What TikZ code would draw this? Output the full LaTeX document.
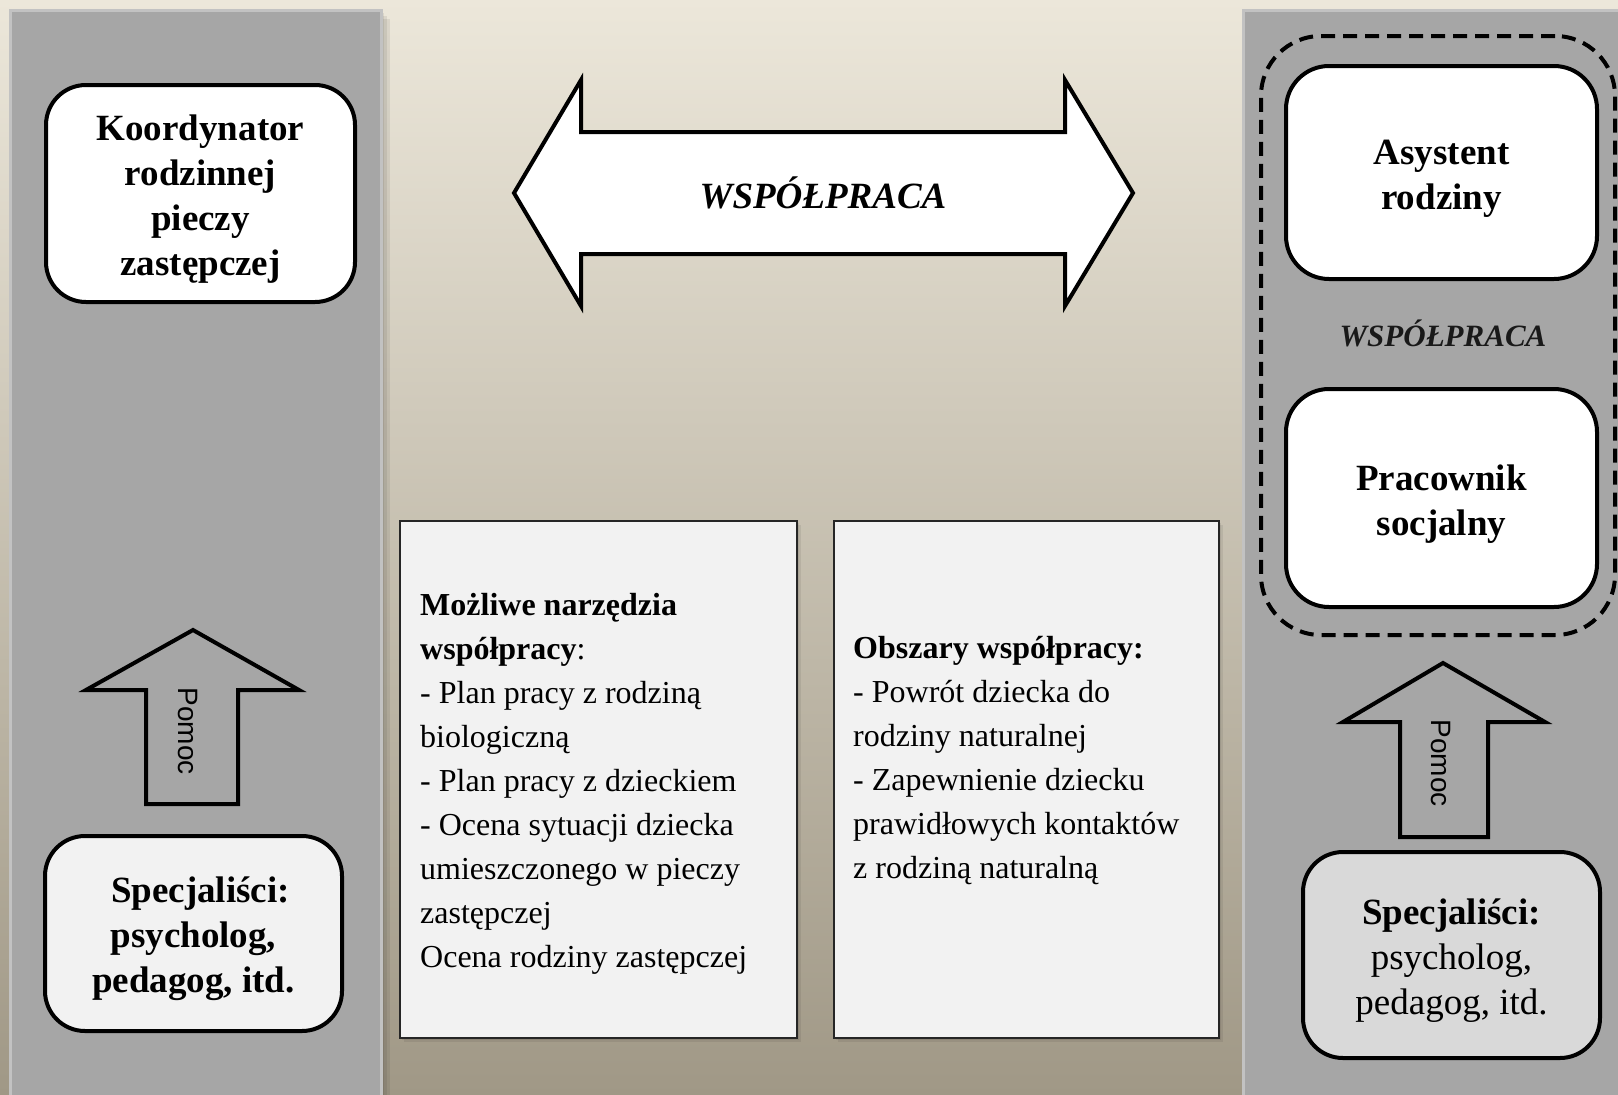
\documentclass[tikz,border=0pt]{standalone}
\usepackage{fontspec}
\setmainfont{Liberation Serif}
\newfontfamily\arialfont{Liberation Sans}
\definecolor{bgtop}{RGB}{236,231,218}
\definecolor{bgbot}{RGB}{160,152,134}
\definecolor{panel}{RGB}{166,166,166}
\definecolor{panelborder}{RGB}{194,194,194}
\definecolor{lightbox}{RGB}{242,242,242}
\definecolor{midbox}{RGB}{217,217,217}
\newcommand{\topstrut}{\rule{0pt}{37pt}}
\begin{document}
\begin{tikzpicture}[x=1pt,y=-1pt,
  panelbox/.style={fill=panel,draw=panelborder,line width=3pt},
  shadowbox/.style={fill=black,opacity=0.07},
  rbox/.style={draw=black,line width=4pt,rounded corners=40pt,fill=white,align=center,inner sep=0pt},
  bigbold/.style={font=\fontsize{37}{45}\selectfont\bfseries},
  bigreg/.style={font=\fontsize{37}{45}\selectfont},
  infobox/.style={draw=black!85,line width=1.5pt,fill=lightbox,inner sep=0pt},
  infotext/.style={anchor=base west,inner sep=0pt},
  blockarrow/.style={draw=black,line width=4pt,line join=miter},
  pomoc/.style={font=\arialfont\fontsize{28}{30}\selectfont,rotate=-90,inner sep=0pt},
  teamline/.style={draw=black,line width=4pt,dash pattern=on 14pt off 8pt,rounded corners=60pt,inner sep=0pt},
  coop/.style={font=\fontsize{37}{40}\selectfont\bfseries\itshape,inner sep=0pt}
]
\useasboundingbox (0,0) rectangle (1618,1095);
\clip (0,0) rectangle (1618,1095);
\shade[top color=bgtop,bottom color=bgbot] (0,0) rectangle (1618,1095);

% panels with soft shadows
\foreach \d in {3,6,9}{
  \fill[shadowbox] (10+\d,10+\d) rectangle (381+\d,1110);
  \fill[shadowbox] (1243+\d,10+\d) rectangle (1630,1110);
}
\draw[panelbox] (10,10) rectangle (381,1110);
\draw[panelbox] (1243,10) rectangle (1630,1110);

% middle boxes with shadows
\foreach \d in {2,4}{
  \fill[shadowbox] (400+\d,521+\d) rectangle (797+\d,1038+\d);
  \fill[shadowbox] (834+\d,521+\d) rectangle (1219+\d,1038+\d);
}
\node[infobox,minimum width=397pt,minimum height=517pt] (tools) at (598.5,779.5) {};
\node[infobox,minimum width=385pt,minimum height=517pt] (areas) at (1026.5,779.5) {};

\node[infotext] (toolstext) at (420,615) {\parbox[t]{375pt}{\raggedright\fontsize{32}{44}\selectfont
\textbf{Możliwe narzędzia}\\
\textbf{współpracy}:\\
- Plan pracy z rodziną\\
biologiczną\\
- Plan pracy z dzieckiem\\
- Ocena sytuacji dziecka\\
umieszczonego w pieczy\\
zastępczej\\
Ocena rodziny zastępczej}};

\node[infotext] (areastext) at (853,658) {\parbox[t]{360pt}{\raggedright\fontsize{32}{44}\selectfont
\textbf{Obszary współpracy:}\\
- Powrót dziecka do\\
rodziny naturalnej\\
- Zapewnienie dziecku\\
prawidłowych kontaktów\\
z rodziną naturalną}};

% left column
\node[rbox,bigbold,minimum width=309pt,minimum height=217pt] (koord) at (200.5,193.5)
  {\topstrut Koordynator\\rodzinnej\\pieczy\\zastępczej};
\node[rbox,bigbold,fill=lightbox,minimum width=297pt,minimum height=195pt] (specL) at (193.5,933.5)
  {\topstrut\hspace*{14pt}Specjaliści:\\psycholog,\\pedagog, itd.};
\draw[blockarrow] (193,630) -- (299,690) -- (238,690) -- (238,804) -- (146,804) -- (146,690) -- (86,690) -- cycle;
\node[pomoc] (pomocL) at (188,731) {Pomoc};

% right column
\node[teamline,minimum width=354pt,minimum height=599pt] (team) at (1438,335.5) {};
\node[rbox,bigbold,rounded corners=43pt,minimum width=311pt,minimum height=213pt] (asyst) at (1441.5,172.5)
  {\topstrut Asystent\\rodziny};
\node[coop,font=\fontsize{31}{34}\selectfont\bfseries\itshape,text=black!90] (coopR) at (1443,333) {WSPÓŁPRACA};
\node[rbox,bigbold,rounded corners=43pt,minimum width=311pt,minimum height=218pt] (prac) at (1441.5,498)
  {\topstrut Pracownik\\socjalny};
\node[rbox,bigreg,fill=midbox,minimum width=297pt,minimum height=206pt] (specR) at (1451.5,955)
  {\topstrut\textbf{Specjaliści:}\\psycholog,\\pedagog, itd.};
\draw[blockarrow] (1443,663) -- (1545,722) -- (1488,722) -- (1488,837) -- (1400,837) -- (1400,722) -- (1343,722) -- cycle;
\node[pomoc] (pomocR) at (1441,763) {Pomoc};

% top double arrow
\draw[blockarrow,fill=white] (514,193) -- (581,80) -- (581,132) -- (1065,132) -- (1065,80) -- (1133,193)
  -- (1065,306) -- (1065,254) -- (581,254) -- (581,306) -- cycle;
\node[coop] (coopT) at (823,193) {WSPÓŁPRACA};
\end{tikzpicture}
\end{document}
